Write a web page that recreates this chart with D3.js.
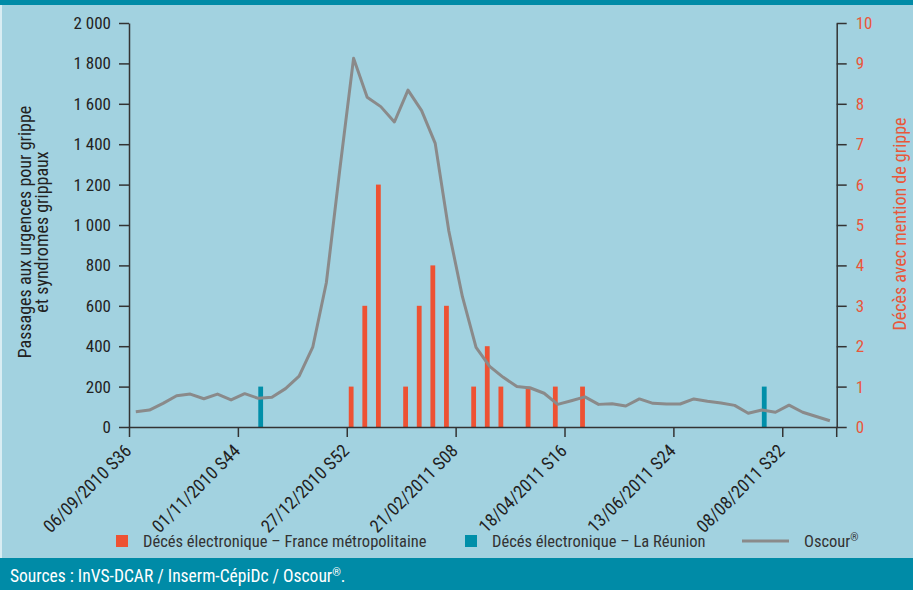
<!DOCTYPE html>
<html>
<head>
<meta charset="utf-8">
<script src="https://cdn.jsdelivr.net/npm/d3@7"></script>
<style>
  body { margin: 0; background: #fff; }
  svg { display: block; font-family: "Liberation Sans Narrow", "Roboto Condensed", "Open Sans", sans-serif; }
  .axis path, .axis line { stroke: #333; stroke-width: 1.5px; }
  .axis text { fill: #222; font-size: 17px; }
  .axis.x-axis text { font-size: 18px; }
  .axis.y2-axis text { fill: #e9573a; }
</style>
</head>
<body>
<div id="chart"></div>
<script>
// weekly series, 52 weeks starting 06/09/2010 (S36)
var oscour = [76, 84, 117, 155, 163, 140, 163, 134, 165, 142, 147, 190, 252, 395, 714, 1280,
    1825, 1632, 1586, 1510, 1668, 1566, 1404, 970, 645, 394, 300, 246, 200, 193, 167, 112,
    130, 149, 112, 115, 104, 139, 117, 114, 114, 139, 127, 119, 107, 68, 84, 73, 108, 73, 52, 31];
var decesFrance = [0, 0, 0, 0, 0, 0, 0, 0, 0, 0, 0, 0, 0, 0, 0, 0,
    1, 3, 6, 0, 1, 3, 4, 3, 0, 1, 2, 1, 0, 1, 0, 1,
    0, 1, 0, 0, 0, 0, 0, 0, 0, 0, 0, 0, 0, 0, 0, 0, 0, 0, 0, 0];
var decesReunion = [0, 0, 0, 0, 0, 0, 0, 0, 0, 1, 0, 0, 0, 0, 0, 0,
    0, 0, 0, 0, 0, 0, 0, 0, 0, 0, 0, 0, 0, 0, 0, 0,
    0, 0, 0, 0, 0, 0, 0, 0, 0, 0, 0, 0, 0, 0, 1, 0, 0, 0, 0, 0];
var tickWeeks = [0, 8, 16, 24, 32, 40, 48];
var tickLabels = ["06/09/2010 S36", "01/11/2010 S44", "27/12/2010 S52", "21/02/2011 S08",
    "18/04/2011 S16", "13/06/2011 S24", "08/08/2011 S32"];
var y1Ticks = [0, 200, 400, 600, 800, 1000, 1200, 1400, 1600, 1800, 2000];
var y2Ticks = [0, 1, 2, 3, 4, 5, 6, 7, 8, 9, 10];
var seriesKeys = ["france", "reunion"];
var legendLabels = ["Décés électronique – France métropolitaine", "Décés électronique – La Réunion", "Oscour"];

(function () {
    var colors = { france: "#ee5233", reunion: "#008fa9", line: "#8a8a8a" };
    var width = 913, height = 590;
    var plotLeft = 129, plotRight = 836.7, plotTop = 23, plotBottom = 427;

    var svg = d3.select("#chart").append("svg").attr("width", width).attr("height", height);

    // background + bands
    svg.append("rect").attr("width", width).attr("height", height).attr("fill", "#a2d2e0");
    svg.append("rect").attr("width", 2).attr("height", height).attr("fill", "#d9edf3");
    svg.append("rect").attr("width", width).attr("height", 5).attr("fill", "#008ba7");
    svg.append("rect").attr("y", 558).attr("width", width).attr("height", 32).attr("fill", "#008ba7");
    var source = svg.append("text").attr("x", 10).attr("y", 582).attr("fill", "#fff").style("font-size", "17.5px");
    source.append("tspan").text("Sources : InVS-DCAR / Inserm-CépiDc / Oscour");
    source.append("tspan").attr("dy", -6).style("font-size", "11px").text("®");
    source.append("tspan").attr("dy", 6).text(".");

    var x = d3.scaleLinear().domain([0, 52]).range([plotLeft, plotRight]);
    var y1 = d3.scaleLinear().domain([0, 2000]).range([plotBottom, plotTop]);
    var y2 = d3.scaleLinear().domain([0, 10]).range([plotBottom, plotTop]);
    var step = x(1) - x(0);
    // two bars side by side in each week, France on the left
    var sub = d3.scaleBand().domain(seriesKeys).range([0, step]).paddingOuter(0.42);

    var fmt = d3.formatLocale({ decimal: ",", thousands: " ", grouping: [3], currency: ["", ""] }).format(",");

    // bars
    var barData = [];
    decesFrance.forEach(function (v, i) { if (v) barData.push({ week: i, key: "france", value: v }); });
    decesReunion.forEach(function (v, i) { if (v) barData.push({ week: i, key: "reunion", value: v }); });
    svg.append("g").selectAll("rect").data(barData).enter().append("rect")
        .attr("x", function (d) { return x(d.week) + sub(d.key); })
        .attr("y", function (d) { return y2(d.value); })
        .attr("width", sub.bandwidth())
        .attr("height", function (d) { return y2(0) - y2(d.value); })
        .attr("fill", function (d) { return colors[d.key]; });

    // oscour line
    var line = d3.line()
        .x(function (d, i) { return x(i + 0.5); })
        .y(function (d) { return y1(d); });
    svg.append("path").datum(oscour).attr("d", line)
        .attr("fill", "none").attr("stroke", colors.line).attr("stroke-width", 3).attr("stroke-linejoin", "round");

    // axes
    svg.append("g").attr("class", "axis y1-axis").attr("transform", "translate(" + plotLeft + ",0)")
        .call(d3.axisLeft(y1).tickValues(y1Ticks).tickSize(10).tickSizeOuter(0).tickPadding(8).tickFormat(fmt));
    svg.append("g").attr("class", "axis y2-axis").attr("transform", "translate(" + plotRight + ",0)")
        .call(d3.axisRight(y2).tickValues(y2Ticks).tickSize(10).tickSizeOuter(0).tickPadding(9));
    svg.append("line").attr("x1", plotRight).attr("x2", plotRight).attr("y1", plotBottom).attr("y2", plotBottom + 10)
        .attr("stroke", "#333").attr("stroke-width", 1.5);

    var xAxis = svg.append("g").attr("class", "axis x-axis").attr("transform", "translate(0," + plotBottom + ")")
        .call(d3.axisBottom(x).tickValues(tickWeeks).tickSize(10).tickSizeOuter(0)
            .tickFormat(function (d, i) { return tickLabels[i]; }));
    xAxis.selectAll(".tick text")
        .attr("text-anchor", "end")
        .attr("y", 0).attr("dy", 0)
        .attr("transform", "translate(3,25) rotate(-45)");
    svg.selectAll(".axis").attr("font-family", null).attr("font-size", null);

    // axis titles
    svg.append("text").attr("transform", "translate(31,232) rotate(-90)").attr("text-anchor", "middle")
        .attr("fill", "#222").style("font-size", "18px").text("Passages aux urgences pour grippe");
    svg.append("text").attr("transform", "translate(48,232) rotate(-90)").attr("text-anchor", "middle")
        .attr("fill", "#222").style("font-size", "18px").text("et syndromes grippaux");
    svg.append("text").attr("transform", "translate(906,224) rotate(-90)").attr("text-anchor", "middle")
        .attr("fill", "#e9573a").style("font-size", "18px").text("Décès avec mention de grippe");

    // legend
    var legend = svg.append("g").style("font-size", "16.5px").attr("fill", "#333");
    legend.append("rect").attr("x", 116).attr("y", 535).attr("width", 12).attr("height", 12).attr("fill", colors.france);
    legend.append("text").attr("x", 143).attr("y", 547).text(legendLabels[0]);
    legend.append("rect").attr("x", 465).attr("y", 535).attr("width", 12).attr("height", 12).attr("fill", colors.reunion);
    legend.append("text").attr("x", 492).attr("y", 547).text(legendLabels[1]);
    legend.append("line").attr("x1", 742).attr("x2", 789).attr("y1", 541).attr("y2", 541)
        .attr("stroke", colors.line).attr("stroke-width", 3);
    var osc = legend.append("text").attr("x", 804).attr("y", 547);
    osc.append("tspan").text(legendLabels[2]);
    osc.append("tspan").attr("dy", -6).style("font-size", "10.5px").text("®");
})();
</script>
</body>
</html>
